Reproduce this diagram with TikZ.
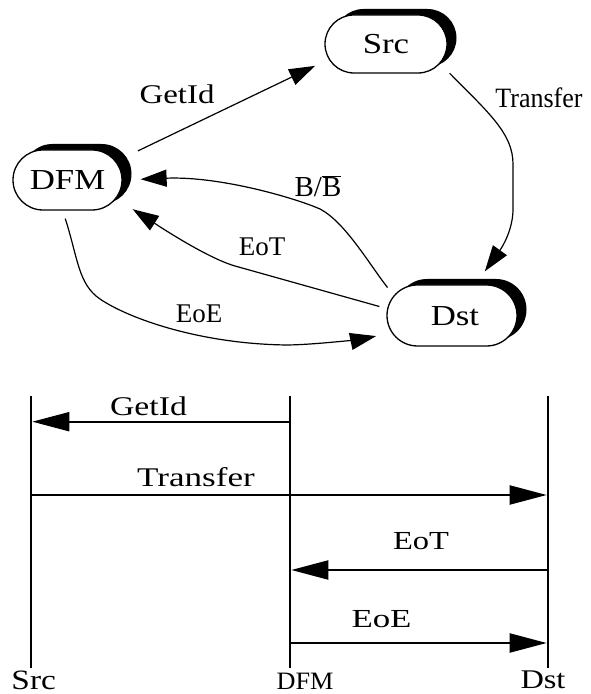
\documentclass[tikz,border=0pt]{standalone}
\usepackage{fontspec}
\usepackage{graphicx}
\setmainfont{Liberation Serif}
\usetikzlibrary{arrows.meta,shapes.misc,shadows}

% text at a given size (pt) and horizontal stretch
\newcommand{\lbltxt}[3]{\fontsize{#1pt}{#1pt}\selectfont\scalebox{#2}[1]{#3}}

\tikzset{
  state/.style={rounded rectangle, draw, line width=1.3pt, fill=white,
    inner sep=0pt, text height=20pt, text depth=0pt,
    general shadow={fill=black, shadow xshift=9.5pt, shadow yshift=6pt}},
  edge/.style={line width=1.2pt, -{Triangle[length=26pt,width=17pt]}},
  msg/.style={line width=2pt, -{Triangle[length=37pt,width=19pt]}},
  life/.style={line width=2.6pt},
  lbl/.style={inner sep=0pt, anchor=base}
}

\begin{document}
\begin{tikzpicture}[x=1pt,y=1pt]
\useasboundingbox (0,0) rectangle (590,694);

% ---------- state diagram ----------
\node[state, minimum width=122pt, minimum height=58pt] (src) at (386,650) {\lbltxt{29}{1.2}{Src}\hspace{15pt}};
\node[state, minimum width=109pt, minimum height=60pt] (dfm) at (67.5,514) {\lbltxt{29}{1.2}{DFM}\hspace{5pt}};
\node[state, minimum width=130pt, minimum height=61pt] (dst) at (452,378.5) {\hspace{6pt}\lbltxt{29}{1.2}{Dst}};

\draw[edge, shorten <=24pt, shorten >=15pt] (dfm.21) -- (src.195.7);
\draw[edge, shorten <=13.5pt, shorten >=16pt] (src.-20)
  .. controls (489.5,580.5) and (513,560) .. (513,530) -- (513,485)
  .. controls (513,465) and (503,448) .. (dst.53.7);
\draw[edge, shorten <=10pt, shorten >=18pt] (dst.161)
  .. controls (369.4,429.6) and (345,472) .. (320,485)
  .. controls (295,496) and (220,518) .. (dfm.0);
\draw[edge, shorten <=8pt, shorten >=19.5pt] (dst.174.3) -- (235,428)
  .. controls (205,436.6) and (149.4,474.1) .. (dfm.-21.3);
\draw[edge, shorten <=8.4pt, shorten >=15.8pt] (dfm.-99.6)
  .. controls (78,436) and (78,410) .. (100,395)
  .. controls (128.6,375.5) and (200,350) .. (287,349)
  .. controls (320,349.4) and (368,356.2) .. (dst.196.4);

\node[lbl] (lgetid) at (177,590) {\lbltxt{27}{1.22}{GetId}};
\node[lbl] (ltransfer) at (539,586) {\lbltxt{28}{0.93}{Transfer}};
\node[lbl] (lbb) at (318,497) {\lbltxt{29}{1}{B/$\overline{\hbox{B}}$}};
\node[lbl] (leot) at (262,438) {\lbltxt{27}{1}{EoT}};
\node[lbl] (leoe) at (199,371) {\lbltxt{27}{1}{EoE}};

% ---------- message sequence ----------
\coordinate (srcTop) at (31,298);   \coordinate (srcBot) at (31,26);
\coordinate (dfmTop) at (290,298);  \coordinate (dfmBot) at (290,26);
\coordinate (dstTop) at (548,298);  \coordinate (dstBot) at (548,26);
\draw[life] (srcTop) -- (srcBot);
\draw[life] (dfmTop) -- (dfmBot);
\draw[life] (dstTop) -- (dstBot);

\coordinate (yGet) at (0,272.3);
\coordinate (yTra) at (0,199);
\coordinate (yEoT) at (0,124);
\coordinate (yEoE) at (0,51);
\draw[msg, shorten >=1.3pt] (dfmTop |- yGet) -- (srcTop |- yGet);
\draw[msg, shorten >=1.3pt] (srcTop |- yTra) -- (dstTop |- yTra);
\draw[msg, shorten >=1.3pt] (dstTop |- yEoT) -- (dfmTop |- yEoT);
\draw[msg, shorten >=1.3pt] (dfmTop |- yEoE) -- (dstTop |- yEoE);

\node[lbl] (sgetid) at (148.5,278) {\lbltxt{27}{1.25}{GetId}};
\node[lbl] (stransfer) at (196,207) {\lbltxt{27}{1.30}{Transfer}};
\node[lbl] (seot) at (421,144) {\lbltxt{26}{1.25}{EoT}};
\node[lbl] (seoe) at (381.5,66) {\lbltxt{26}{1.34}{EoE}};

\node[lbl] (lsrc) at (33.7,5) {\lbltxt{28}{1.19}{Src}};
\node[lbl] (ldfm) at (305,5) {\lbltxt{25}{1.05}{DFM}};
\node[lbl] (ldst) at (543,5.5) {\lbltxt{27}{1.2}{Dst}};
\end{tikzpicture}
\end{document}
